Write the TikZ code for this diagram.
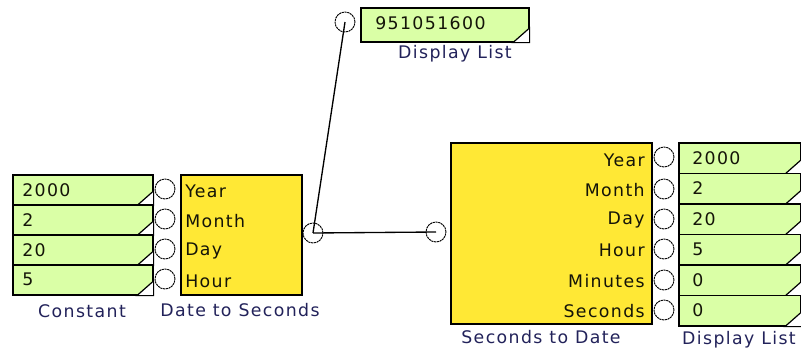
\documentclass[tikz,border=0pt]{standalone}
\usepackage{fontspec}
\setmainfont{DejaVu Sans}[LetterSpace=8]
\definecolor{dgreen}{HTML}{DAFFA6}
\definecolor{yel}{HTML}{FFE835}
\definecolor{lblc}{HTML}{22225A}
\definecolor{txtc}{HTML}{141408}
\newcommand\dlcorner[1]{\filldraw[fill=white, draw=black, line width=0.9pt] ([xshift=-12.5pt]#1.south east) -- ([yshift=11pt]#1.south east) -- (#1.south east) -- cycle;}
\begin{document}
\begin{tikzpicture}[x=0.75pt,y=-0.75pt,
  font=\fontsize{13}{15}\selectfont,
  box/.style={draw=black, line width=1.2pt, inner sep=0, anchor=north west},
  disp/.style={box, fill=dgreen},
  blk/.style={box, fill=yel},
  port/.style={circle, draw=black, line width=0.7pt, dash pattern=on 1.6pt off 0.5pt, minimum size=15pt, inner sep=0},
  val/.style={anchor=west, text=txtc, inner sep=0},
  inl/.style={anchor=west, text=txtc, inner sep=0},
  outl/.style={anchor=east, text=txtc, inner sep=0},
  lbl/.style={text=lblc, inner sep=0},
  wire/.style={draw=black, line width=1pt}]
\useasboundingbox (0,0) rectangle (801,354);

% Constant column
\foreach \i/\v [count=\k from 0] in {1/2000,2/2,3/20,4/5}{
  \node[disp, minimum width=105pt, minimum height=22.5pt] (c\i) at (12,174+30*\k) {};
  \dlcorner{c\i}
  \node[val] (c\i t) at ([xshift=7.5pt]c\i.west) {\v};
}
\node[lbl] (constlbl) at (82,311) {Constant};

% Date to Seconds
\node[blk, minimum width=90.75pt, minimum height=90pt] (ds) at (180,174) {};
\foreach \i/\t [count=\k from 0] in {1/Year,2/Month,3/Day,4/Hour}{
  \node[port] (dsp\i) at (165,189+30*\k) {};
  \node[inl] (dsl\i) at (185,191+30*\k) {\t};
}
\node[lbl] (dslbl) at (240,310) {Date to Seconds};
\node[port] (dso) at (313,233) {};

% Top display list
\node[disp, minimum width=126pt, minimum height=25.5pt] (tdl) at (360,7) {};
\dlcorner{tdl}
\node[val] (tdlt) at (375,23) {951051600};
\node[port] (tdlp) at (345,22) {};
\node[lbl] (tdllbl) at (455,54) {Display List};

% Seconds to Date
\node[blk, minimum width=150.75pt, minimum height=135.75pt] (sd) at (450,142) {};
\node[port] (sdi) at (436,232) {};
\foreach \i/\t/\y in {1/Year/160,2/Month/190,3/Day/220,4/Hour/250,5/Minutes/281,6/Seconds/311}{
  \node[outl] (sdl\i) at (645,\y) {\t};
}
\foreach \i/\y in {1/157,2/189,3/219,4/249,5/280,6/310}{
  \node[port] (sdp\i) at (664,\y) {};
}
\node[lbl] (sdlbl) at (541,337) {Seconds to Date};

% Right display list
\foreach \i/\v [count=\k from 0] in {1/2000,2/2,3/20,4/5,5/0,6/0}{
  \node[disp, minimum width=91.5pt, minimum height=22.875pt] (r\i) at (678,142+30.5*\k) {};
  \dlcorner{r\i}
  \node[val] (r\i t) at ([xshift=10.5pt]r\i.west) {\v};
}
\node[lbl] (rdllbl) at (739,340) {Display List};

% Wires
\draw[wire] (dso.center) -- (tdlp.center);
\draw[wire] (dso.center) -- (sdi.center);
\end{tikzpicture}
\end{document}
